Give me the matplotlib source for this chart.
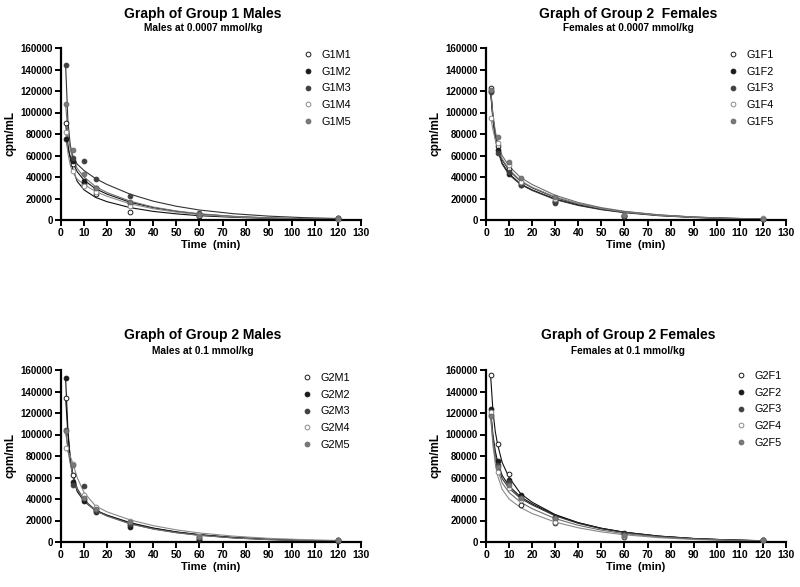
import matplotlib
matplotlib.use("Agg")
import matplotlib.pyplot as plt
from matplotlib.ticker import MultipleLocator

plt.rcParams['font.family'] = ['Liberation Sans', 'DejaVu Sans']

# ---------------- data ----------------
t_obs = [2, 5, 10, 15, 30, 60, 120]
t_fit = [2, 3, 4, 5, 7, 10, 15, 20, 30, 40, 50, 60, 75, 90, 105, 120]

g1m_names = ["G1M1", "G1M2", "G1M3", "G1M4", "G1M5"]
g1m_obs = [
    [90000, 52000, 33500, 24200, 7700, 3400, 1500],
    [75000, 55000, 36000, 29400, 15500, 4000, 1200],
    [144000, 58000, 55000, 37800, 22600, 6800, 1800],
    [82000, 45600, 31900, 26400, 13300, 4500, 1000],
    [108000, 65000, 42800, 30000, 17000, 5500, 1500],
]
g1m_fit = [
    [90000, 70000, 57000, 48000, 36000, 28000, 21000, 17000, 11500, 8000, 5700, 4000, 2500, 1500, 900, 600],
    [76000, 66000, 59000, 54000, 45000, 37000, 29000, 24000, 16500, 11500, 8000, 5500, 3200, 1900, 1100, 650],
    [144000, 92000, 70000, 60000, 52000, 46000, 38500, 33000, 24000, 17500, 12800, 9300, 5800, 3600, 2200, 1400],
    [83000, 62000, 51000, 45000, 38000, 33000, 26500, 22000, 15000, 10500, 7300, 5000, 2900, 1700, 1000, 600],
    [108000, 80000, 66000, 58000, 48000, 40000, 31000, 25500, 17500, 12000, 8400, 5800, 3400, 2000, 1200, 700],
]

g1f_names = ["G1F1", "G1F2", "G1F3", "G1F4", "G1F5"]
g1f_obs = [
    [123000, 69000, 47000, 34000, 18000, 4000, 1200],
    [120000, 65000, 43000, 33000, 17000, 3500, 1000],
    [119000, 62000, 45000, 32500, 16000, 3800, 900],
    [95000, 72000, 51000, 35000, 20000, 5000, 1500],
    [121000, 77000, 54000, 39500, 21000, 4500, 1300],
]
g1f_fit = [
    [123000, 97000, 80000, 69000, 56000, 46000, 36000, 30000, 21000, 15000, 10800, 7700, 4600, 2700, 1600, 950],
    [120000, 95000, 78000, 67000, 53000, 43000, 33500, 28000, 19500, 14000, 10000, 7200, 4300, 2500, 1500, 900],
    [119000, 93000, 76000, 65000, 52000, 42000, 33000, 27500, 19000, 13500, 9600, 6800, 4000, 2300, 1350, 800],
    [96000, 84000, 75000, 68000, 57000, 47000, 36500, 30500, 21500, 15200, 10700, 7500, 4400, 2600, 1500, 900],
    [121000, 98000, 83000, 73000, 60000, 50000, 39500, 33000, 23000, 16300, 11500, 8100, 4800, 2800, 1650, 1000],
]

g2m_names = ["G2M1", "G2M2", "G2M3", "G2M4", "G2M5"]
g2m_obs = [
    [134000, 62000, 40000, 30000, 16000, 3000, 1500],
    [153000, 56000, 38500, 28000, 14000, 2000, 1200],
    [104000, 53000, 52000, 29000, 17000, 4500, 2000],
    [87000, 73000, 43500, 33000, 19500, 6000, 1800],
    [103000, 72000, 41000, 31000, 19000, 5000, 1600],
]
g2m_fit = [
    [134000, 100000, 78000, 64000, 49000, 38500, 29500, 25000, 18000, 13000, 9400, 6800, 4200, 2600, 1600, 1000],
    [152000, 104000, 78000, 62000, 47000, 38000, 29000, 24500, 17500, 12700, 9200, 6700, 4100, 2500, 1550, 950],
    [104000, 88000, 75000, 65000, 50000, 39000, 29500, 24500, 17000, 12200, 8800, 6300, 3800, 2300, 1400, 850],
    [87000, 84000, 80000, 74000, 60000, 46000, 33500, 28000, 20500, 15200, 11300, 8400, 5400, 3400, 2200, 1400],
    [103000, 86000, 73000, 63000, 49000, 38500, 29000, 24000, 16800, 12000, 8600, 6200, 3700, 2200, 1350, 800],
]

g2f_names = ["G2F1", "G2F2", "G2F3", "G2F4", "G2F5"]
g2f_obs = [
    [155000, 91000, 63000, 34500, 17500, 5000, 1800],
    [124000, 75000, 58000, 43500, 23500, 8500, 1500],
    [118000, 72000, 56000, 41000, 21500, 7000, 1700],
    [121000, 65500, 50000, 39000, 19000, 6000, 2200],
    [117000, 70000, 53000, 40500, 22000, 6500, 1900],
]
g2f_fit = [
    [155000, 122000, 103000, 91000, 74000, 60000, 45000, 37000, 25500, 18000, 12800, 9100, 5500, 3300, 2000, 1200],
    [123000, 100000, 85000, 75000, 62000, 52000, 42000, 35500, 25000, 17800, 12700, 9000, 5400, 3200, 1900, 1150],
    [121000, 97000, 82000, 72000, 59000, 50000, 40500, 34500, 24300, 17300, 12300, 8800, 5300, 3100, 1850, 1100],
    [118000, 90000, 73000, 62000, 49000, 40000, 32000, 26500, 18500, 13200, 9400, 6700, 4000, 2400, 1400, 850],
    [117000, 94000, 78000, 68000, 55000, 46000, 37000, 31000, 21800, 15500, 11000, 7800, 4700, 2800, 1650, 1000],
]

titles = ["Graph of Group 1 Males", "Graph of Group 2  Females",
          "Graph of Group 2 Males", "Graph of Group 2 Females"]
subtitles = ["Males at 0.0007 mmol/kg", "Females at 0.0007 mmol/kg",
             "Males at 0.1 mmol/kg", "Females at 0.1 mmol/kg"]

# ---------------- styling ----------------
W, H = 800, 587
marker_face = ["white", "#1a1a1a", "#404040", "white", "#7a7a7a"]
marker_edge = ["#1a1a1a", "#1a1a1a", "#404040", "#8a8a8a", "#6a6a6a"]
line_col = ["#111111", "#111111", "#333333", "#8a8a8a", "#707070"]

fig = plt.figure(figsize=(W / 100, H / 100), dpi=100)

panels = [
    (g1m_names, g1m_obs, g1m_fit),
    (g1f_names, g1f_obs, g1f_fit),
    (g2m_names, g2m_obs, g2m_fit),
    (g2f_names, g2f_obs, g2f_fit),
]
# pixel boxes: (left, right, top, bottom)
boxes = [(61, 361, 48, 220), (486, 786, 48, 220),
         (61, 361, 370, 542), (486, 786, 370, 542)]
title_pos = [(203, 14, 28), (628, 14, 28), (203, 335, 351), (628, 335, 351)]
legend_pos = [(304, 50), (729, 50), (303, 373), (737, 371)]

for i, ((names, obs, fit), (l, r, t, b)) in enumerate(zip(panels, boxes)):
    ax = fig.add_axes([l / W, 1 - b / H, (r - l) / W, (b - t) / H])
    handles = []
    for k in range(5):
        ax.plot(t_fit, fit[k], color=line_col[k], lw=0.8, zorder=2)
    for k in range(5):
        h, = ax.plot(t_obs, obs[k], linestyle="none", marker="o", ms=3.4,
                     mfc=marker_face[k], mec=marker_edge[k], mew=0.7,
                     zorder=3, clip_on=False, label=names[k])
        handles.append(h)
    ax.set_xlim(0, 130)
    ax.set_ylim(0, 160000)
    ax.xaxis.set_major_locator(MultipleLocator(10))
    ax.yaxis.set_major_locator(MultipleLocator(20000))
    for s in ["top", "right"]:
        ax.spines[s].set_visible(False)
    for s in ["left", "bottom"]:
        ax.spines[s].set_linewidth(1.6)
    ax.tick_params(direction="out", length=4, width=1.4, pad=2)
    for lab in ax.get_xticklabels():
        lab.set_fontsize(7.5)
        lab.set_fontweight("bold")
    for lab in ax.get_yticklabels():
        lab.set_fontsize(7)
        lab.set_fontweight("bold")
    ax.set_xlabel("Time  (min)", fontsize=8, fontweight="bold", labelpad=1)
    ax.set_ylabel("cpm/mL", fontsize=8.5, fontweight="bold", labelpad=3)

    lx, ly = legend_pos[i]
    ax.legend(handles=handles, loc="upper left",
              bbox_to_anchor=(lx / W, 1 - ly / H), bbox_transform=fig.transFigure,
              frameon=False, fontsize=7.8, handlelength=0.7, handletextpad=0.9,
              labelspacing=0.62, borderpad=0, borderaxespad=0)

    tx, ty, sy = title_pos[i]
    fig.text(tx / W, 1 - ty / H, titles[i], ha="center", va="center",
             fontsize=10, fontweight="bold")
    fig.text(tx / W, 1 - sy / H, subtitles[i], ha="center", va="center",
             fontsize=7.3, fontweight="bold")

fig.savefig("out.png", dpi=100)
